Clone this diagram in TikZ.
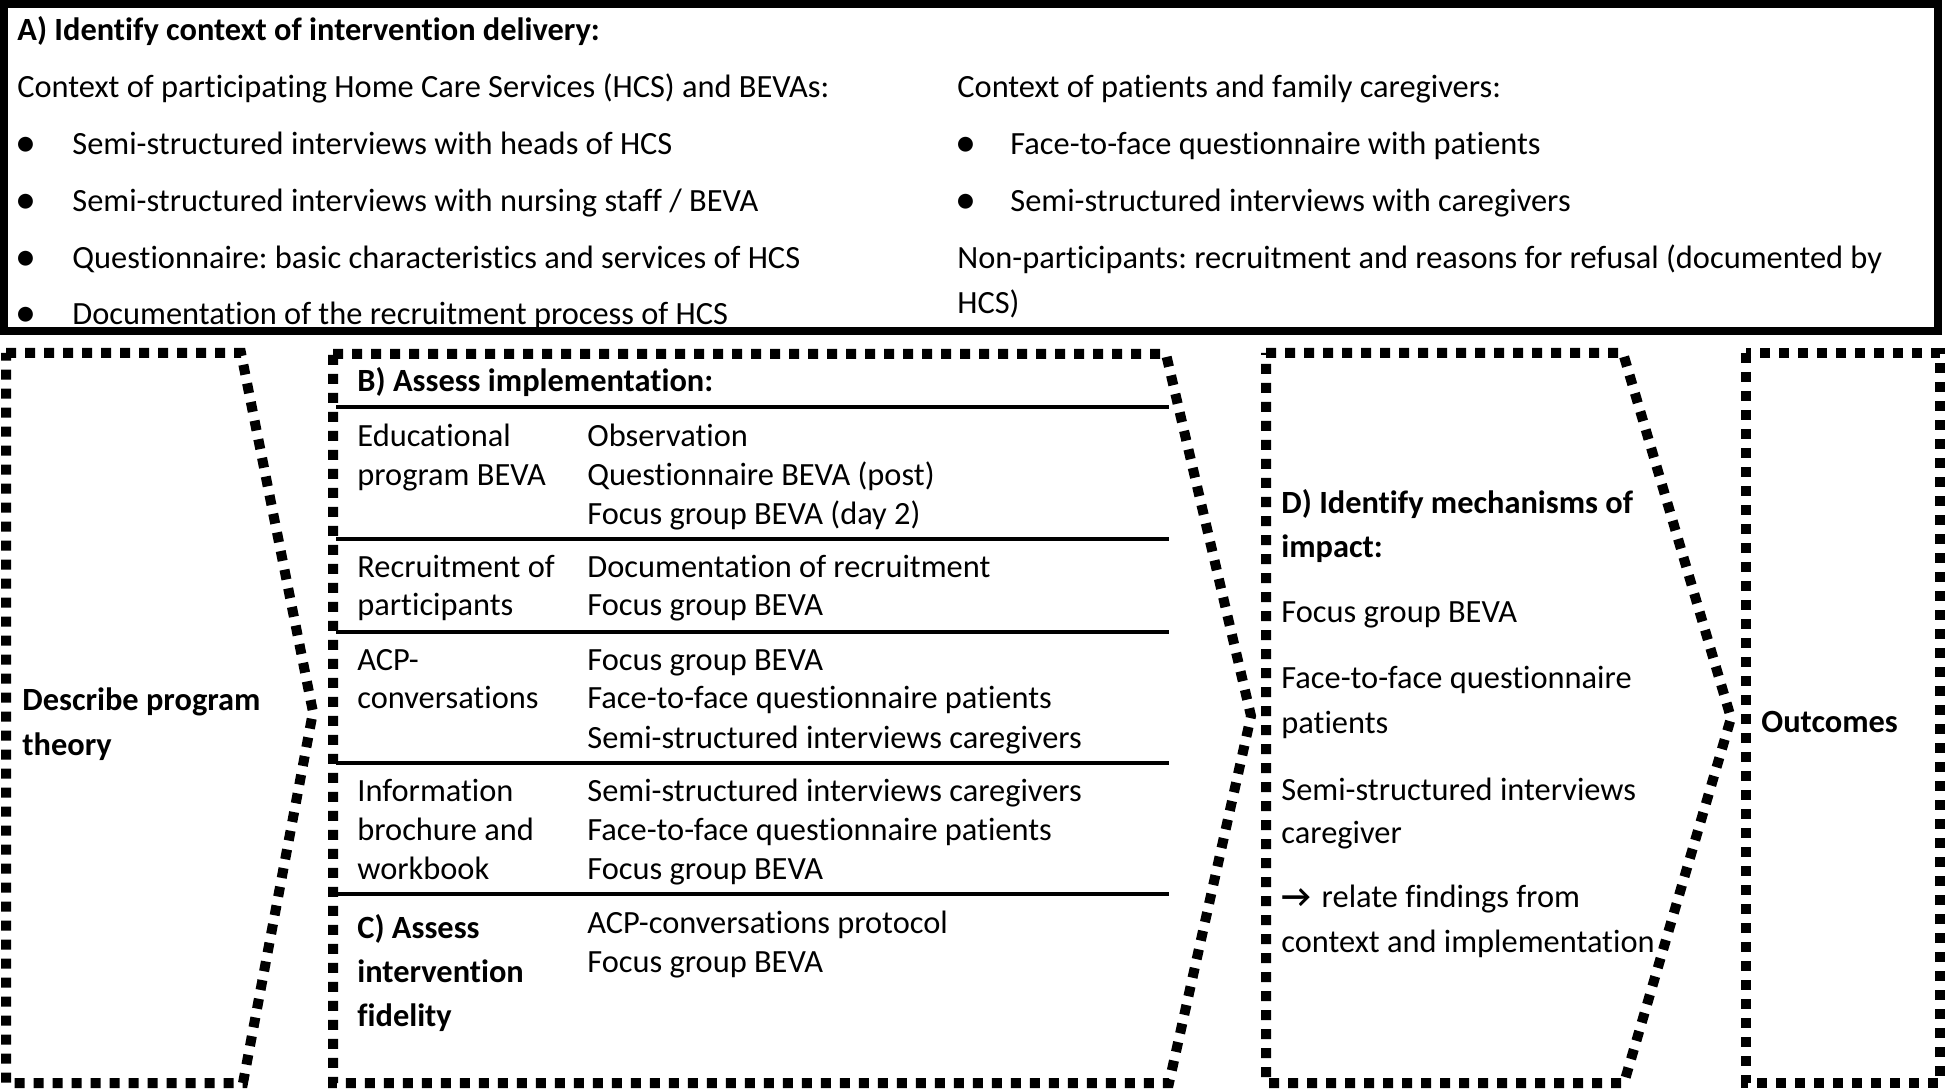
\documentclass[tikz,border=0pt]{standalone}
\usepackage{fontspec}
\setmainfont{Carlito}[Ligatures={NoCommon}]
\frenchspacing
\begin{document}
\begin{tikzpicture}[x=0.5pt,y=-0.5pt,
  tx/.style={anchor=base west,inner sep=0pt,font=\fontsize{16.2}{19}\selectfont},
  tb/.style={anchor=base west,inner sep=0pt,font=\fontsize{16.2}{19}\selectfont\bfseries},
  bul/.style={anchor=base west,inner sep=0pt,font=\fontsize{21}{21}\selectfont},
  frame/.style={line width=4pt},
  dotbox/.style={line width=5pt,dash pattern=on 5pt off 4.5pt},
  rowrule/.style={line width=2pt}]
\useasboundingbox (0,0) rectangle (1945,1090);
% ---------- A) top frame ----------
\draw[frame] (4,4) rectangle (1938,331);
\node[tb] (aHead) at (17,41) {A) Identify context of intervention delivery:};
\node[tx] (aL0) at (17,98) {Context of participating Home Care Services (HCS) and BEVAs:};
\node[bul] (bL1) at (15,157) {•};
\node[tx] (aL1) at (72,155) {Semi-structured interviews with heads of HCS};
\node[bul] (bL2) at (15,214) {•};
\node[tx] (aL2) at (72,212) {Semi-structured interviews with nursing staff / BEVA};
\node[bul] (bL3) at (15,271) {•};
\node[tx] (aL3) at (72,269) {Questionnaire: basic characteristics and services of HCS};
\node[bul] (bL4) at (15,327) {•};
\node[tx] (aL4) at (72,325) {Documentation of the recruitment process of HCS};
\node[tx] (aR0) at (957,98) {Context of patients and family caregivers:};
\node[bul] (bR1) at (955,157) {•};
\node[tx] (aR1) at (1010,155) {Face-to-face questionnaire with patients};
\node[bul] (bR2) at (955,214) {•};
\node[tx] (aR2) at (1010,212) {Semi-structured interviews with caregivers};
\node[tx] (aR3) at (957,269) {Non-participants: recruitment and reasons for refusal (documented by};
\node[tx] (aR4) at (957,314) {HCS)};
% ---------- program theory ----------
\draw[dotbox] (6,353) -- (241,353) -- (313,712) -- (243,1083) -- (6,1083) -- cycle;
\node[tb] (pt1) at (22,711) {Describe program};
\node[tb] (pt2) at (22,755) {theory};
% ---------- B/C ----------
\draw[dotbox] (333,354) -- (1166,354) -- (1251,716) -- (1169,1083) -- (333,1083) -- cycle;
\foreach \yy in {407,539,632,763,894}
  \draw[rowrule] (336,\yy) -- (1169,\yy);
\node[tb] (bHead) at (357,392) {B) Assess implementation:};
\node[tx] (r1a) at (357,447) {Educational};
\node[tx] (r1b) at (357,486) {program BEVA};
\node[tx] (r1c) at (587,447) {Observation};
\node[tx] (r1d) at (587,486) {Questionnaire BEVA (post)};
\node[tx] (r1e) at (587,525) {Focus group BEVA (day 2)};
\node[tx] (r2a) at (357,578) {Recruitment of};
\node[tx] (r2b) at (357,616) {participants};
\node[tx] (r2c) at (587,578) {Documentation of recruitment};
\node[tx] (r2d) at (587,616) {Focus group BEVA};
\node[tx] (r3a) at (357,671) {ACP-};
\node[tx] (r3b) at (357,709) {conversations};
\node[tx] (r3c) at (587,671) {Focus group BEVA};
\node[tx] (r3d) at (587,709) {Face-to-face questionnaire patients};
\node[tx] (r3e) at (587,748) {Semi-structured interviews caregivers};
\node[tx] (r4a) at (357,802) {Information};
\node[tx] (r4b) at (357,841) {brochure and};
\node[tx] (r4c) at (357,879) {workbook};
\node[tx] (r4d) at (587,802) {Semi-structured interviews caregivers};
\node[tx] (r4e) at (587,841) {Face-to-face questionnaire patients};
\node[tx] (r4f) at (587,879) {Focus group BEVA};
\node[tb] (c1) at (357,938) {C) Assess};
\node[tb] (c2) at (357,982) {intervention};
\node[tb] (c3) at (357,1026) {fidelity};
\node[tx] (r5a) at (587,933) {ACP-conversations protocol};
\node[tx] (r5b) at (587,972) {Focus group BEVA};
% ---------- D ----------
\draw[dotbox] (1266,353) -- (1623,353) -- (1731,718) -- (1624,1083) -- (1266,1083) -- cycle;
\node[tb] (d1) at (1281,514) {D) Identify mechanisms of};
\node[tb] (d2) at (1281,558) {impact:};
\node[tx] (d3) at (1281,623) {Focus group BEVA};
\node[tx] (d4) at (1281,689) {Face-to-face questionnaire};
\node[tx] (d5) at (1281,734) {patients};
\node[tx] (d6) at (1281,800) {Semi-structured interviews};
\node[tx] (d7) at (1281,843) {caregiver};
\node[tx] (d8) at (1281,907) {{\bfseries →}\hspace{5.5pt}relate findings from};
\node[tx] (d9) at (1281,952) {context and implementation};
% ---------- Outcomes ----------
\draw[dotbox] (1746,353) rectangle (1940,1083);
\node[tb] (out) at (1761,733) {Outcomes};
\end{tikzpicture}
\end{document}
